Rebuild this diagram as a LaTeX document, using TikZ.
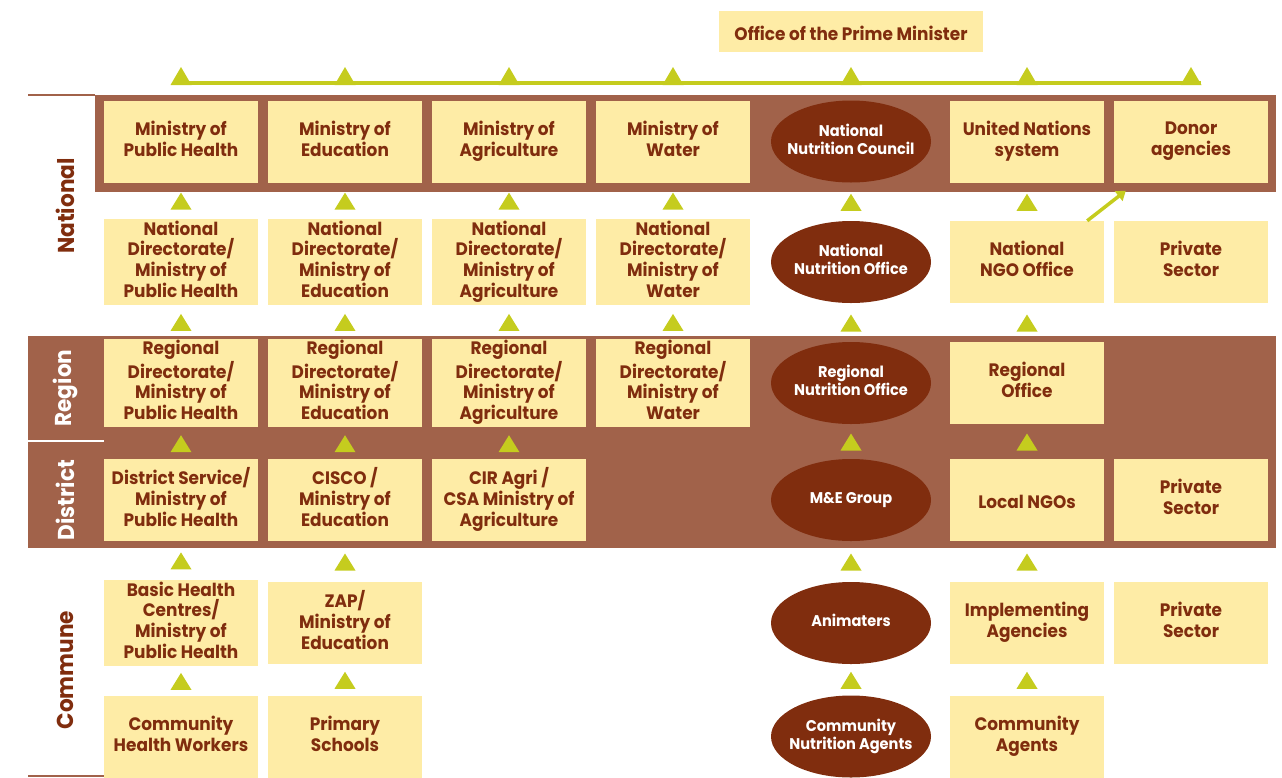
\documentclass[tikz,border=0pt]{standalone}
\usepackage{fontspec}
\setmainfont{Poppins}[FakeStretch=0.94]
\usetikzlibrary{arrows.meta,positioning,shapes,calc}

\definecolor{colorband}{RGB}{161,98,74}
\definecolor{colorbox}{RGB}{254,236,166}
\definecolor{colordark}{RGB}{128,45,14}
\definecolor{colorarrow}{RGB}{197,204,30}

\newcommand{\firststrut}{\rule{0pt}{23pt}}
\newcommand{\laststrut}{\rule[-6pt]{0pt}{6pt}}

\tikzstyle{unit}=[rectangle, fill=colorbox, text=colordark, minimum width=154pt, minimum height=82pt, inner sep=2pt, align=center, font=\bfseries\fontsize{18}{20.7}\selectfont, execute at begin node=\firststrut, execute at end node=\laststrut]
\tikzstyle{council}=[ellipse, fill=colordark, text=white, minimum width=160pt, minimum height=82pt, inner xsep=-22pt, inner ysep=0pt, align=center, font=\bfseries\fontsize{15.5}{18}\selectfont, execute at begin node=\strut, execute at end node=\strut]
\tikzstyle{level}=[rotate=90, font=\bfseries\fontsize{23}{24}\selectfont]
\tikzstyle{tri}=[fill=colorarrow]
\tikzstyle{bus}=[draw=colorarrow, line width=4pt]
\tikzstyle{link}=[draw=colorarrow, line width=3.5pt, -{Triangle[length=9pt,width=12pt]}, colorarrow]

% arrowhead half way between two units
\newcommand{\uptri}[2]{\fill[tri] ($(#1.north)!0.5!(#2.south)$) ++(-10.5,9) -- ++(21,0) -- ++(-10.5,-17) -- cycle;}
% arrowhead sitting on the bus line
\newcommand{\bustri}[1]{\fill[tri] (#1.north |- busl) ++(-10.5,2) -- ++(21,0) -- ++(-10.5,-18) -- cycle;}

\begin{document}
\begin{tikzpicture}[x=1pt, y=-1pt]
	\useasboundingbox (0,0) rectangle (1282,777);
	
	% bands
	\fill[colorband] (95,95) rectangle (1276,192);
	\fill[colorband] (28,336) rectangle (1276,548);
	\draw[colorband, line width=1.5pt] (28,95) -- (95,95);
	\draw[white, line width=1.5pt] (28,441) -- (104,441);
	\draw[colorband, line width=1.5pt] (28,776) -- (104,776);
	
	\node[level, text=colordark] at (65,206) (lnat) {National};
	\node[level, text=white] at (65,388) (lreg) {Region};
	\node[level, text=white] at (65,500) (ldis) {District};
	\node[level, text=colordark] at (65,670) (lcom) {Commune};
	
	\node[unit, minimum width=264pt, minimum height=41pt] at (851,31.5) (pm) {Office of the Prime Minister};
	
	% national
	\node[unit] at (181,141.5) (mph) {Ministry of\\Public Health};
	\node[unit] at (345,141.5) (medu) {Ministry of\\Education};
	\node[unit] at (509,141.5) (magri) {Ministry of\\Agriculture};
	\node[unit] at (673,141.5) (mwater) {Ministry of\\Water};
	\node[council] at (851,141.5) (nnc) {National\\Nutrition Council};
	\node[unit] at (1027,141.5) (uns) {United Nations\\system};
	\node[unit] at (1191,141.5) (donor) {Donor\\agencies};
	
	\node[unit] at (181,262) (ndph) {National\\Directorate/\\Ministry of\\Public Health};
	\node[unit] at (345,262) (nded) {National\\Directorate/\\Ministry of\\Education};
	\node[unit] at (509,262) (ndag) {National\\Directorate/\\Ministry of\\Agriculture};
	\node[unit] at (673,262) (ndwa) {National\\Directorate/\\Ministry of\\Water};
	\node[council] at (851,262) (nno) {National\\Nutrition Office};
	\node[unit] at (1027,262) (ngo) {National\\NGO Office};
	\node[unit] at (1191,262) (privn) {Private\\Sector};
	
	% region
	\node[unit] at (181,383) (rdph) {Regional\\Directorate/\\Ministry of\\Public Health};
	\node[unit] at (345,383) (rded) {Regional\\Directorate/\\Ministry of\\Education};
	\node[unit] at (509,383) (rdag) {Regional\\Directorate/\\Ministry of\\Agriculture};
	\node[unit] at (673,383) (rdwa) {Regional\\Directorate/\\Ministry of\\Water};
	\node[council] at (851,383) (rno) {Regional\\Nutrition Office};
	\node[unit] at (1027,383) (regoff) {Regional\\Office};
	
	% district
	\node[unit] at (181,500) (dsph) {District Service/\\Ministry of\\Public Health};
	\node[unit] at (345,500) (cisco) {CISCO /\\Ministry of\\Education};
	\node[unit] at (509,500) (cir) {CIR Agri /\\CSA Ministry of\\Agriculture};
	\node[council] at (851,500) (meg) {M\&E Group};
	\node[unit] at (1027,500) (lngo) {Local NGOs};
	\node[unit] at (1191,500) (privd) {Private\\Sector};
	
	% commune
	\node[unit] at (181,623) (bhc) {Basic Health\\Centres/\\Ministry of\\Public Health};
	\node[unit] at (345,623) (zap) {ZAP/\\Ministry of\\Education};
	\node[council] at (851,623) (anim) {Animaters};
	\node[unit] at (1027,623) (impl) {Implementing\\Agencies};
	\node[unit] at (1191,623) (privc) {Private\\Sector};
	
	\node[unit] at (181,736.5) (chw) {Community\\Health Workers};
	\node[unit] at (345,736.5) (school) {Primary\\Schools};
	\node[council] at (851,736.5) (cna) {Community\\Nutrition Agents};
	\node[unit] at (1027,736.5) (cagent) {Community\\Agents};
	
	% line up to the prime minister
	\coordinate (busl) at (181,83);
	\coordinate (busr) at (1201,83);
	\draw[bus] (busl) -- (busr);
	\bustri{mph} \bustri{medu} \bustri{magri} \bustri{mwater}
	\bustri{nnc} \bustri{uns} \bustri{donor}
	
	\uptri{ndph}{mph} \uptri{nded}{medu} \uptri{ndag}{magri}
	\uptri{ndwa}{mwater} \uptri{nno}{nnc} \uptri{ngo}{uns}
	
	\uptri{rdph}{ndph} \uptri{rded}{nded} \uptri{rdag}{ndag}
	\uptri{rdwa}{ndwa} \uptri{rno}{nno} \uptri{regoff}{ngo}
	
	\uptri{dsph}{rdph} \uptri{cisco}{rded} \uptri{cir}{rdag}
	\uptri{meg}{rno} \uptri{lngo}{regoff}
	
	\uptri{bhc}{dsph} \uptri{zap}{cisco} \uptri{anim}{meg} \uptri{impl}{lngo}
	
	\uptri{chw}{bhc} \uptri{school}{zap} \uptri{cna}{anim} \uptri{cagent}{impl}
	
	\path[link] ([xshift=-17pt]ngo.north east) -- ([xshift=12pt,yshift=-8pt]donor.south west);
	
\end{tikzpicture}
\end{document}
